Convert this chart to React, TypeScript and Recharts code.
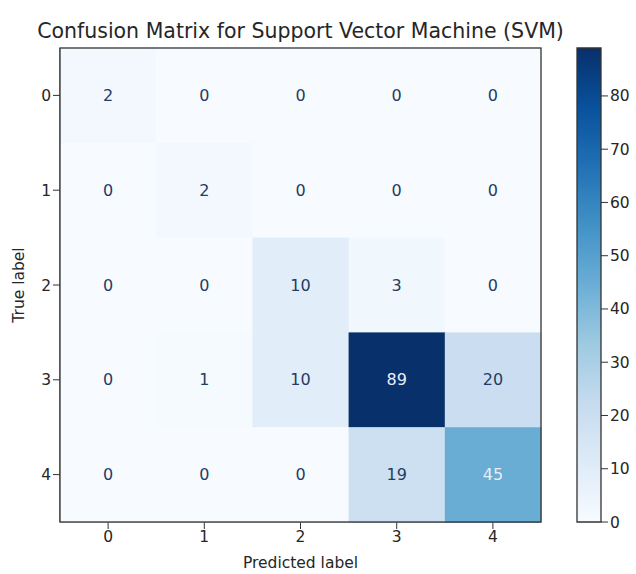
import { ScatterChart, Scatter, XAxis, YAxis, BarChart, Bar } from "recharts";

const classes = ["0", "1", "2", "3", "4"];
const row0 = [2, 0, 0, 0, 0];
const row1 = [0, 2, 0, 0, 0];
const row2 = [0, 0, 10, 3, 0];
const row3 = [0, 1, 10, 89, 20];
const row4 = [0, 0, 0, 19, 45];
const matrix = [row0, row1, row2, row3, row4];
const colorbarTicks = [0, 10, 20, 30, 40, 50, 60, 70, 80];

const title = "Confusion Matrix for Support Vector Machine (SVM)";
const FONT = "'DejaVu Sans', sans-serif";

// matplotlib "Blues"
const BLUES = [
  "#f7fbff", "#deebf7", "#c6dbef", "#9ecae1", "#6baed6",
  "#4292c6", "#2171b5", "#08519c", "#08306b",
];

const vmax = Math.max(...matrix.flat());
const vmin = Math.min(...matrix.flat());

function hexToRgb(h: string) {
  return [1, 3, 5].map((i) => parseInt(h.slice(i, i + 2), 16));
}

function blues(v: number) {
  const t = Math.min(1, Math.max(0, (v - vmin) / (vmax - vmin)));
  const pos = t * (BLUES.length - 1);
  const i = Math.min(BLUES.length - 2, Math.floor(pos));
  const f = pos - i;
  const a = hexToRgb(BLUES[i]);
  const b = hexToRgb(BLUES[i + 1]);
  const c = a.map((x, k) => Math.round(x + (b[k] - x) * f));
  return `rgb(${c[0]},${c[1]},${c[2]})`;
}

const cells = matrix.flatMap((row, r) =>
  row.map((value, c) => ({ x: c, y: r, value }))
);
// single point at the grid centre, used to draw the axes frame on top
const frame = [{ x: (classes.length - 1) / 2, y: (classes.length - 1) / 2 }];

const W = 560;
const H = 574;
const margin = { top: 48, right: 19, bottom: 2, left: 0 };
const Y_AXIS_W = 60;
const X_AXIS_H = 50;
const plotW = W - margin.left - margin.right - Y_AXIS_W;
const plotH = H - margin.top - margin.bottom - X_AXIS_H;
const cellW = plotW / classes.length;
const cellH = plotH / classes.length;

function CellShape(props: any) {
  const { cx, cy, payload } = props;
  const v = payload.value;
  const textColor = v >= (vmax + vmin) / 2 ? "#e8eef6" : "#253c63";
  return (
    <g>
      <rect
        x={cx - cellW / 2}
        y={cy - cellH / 2}
        width={cellW + 0.5}
        height={cellH + 0.5}
        fill={blues(v)}
      />
      <text
        x={cx}
        y={cy}
        textAnchor="middle"
        dominantBaseline="central"
        fontSize={16}
        fontFamily={FONT}
        fill={textColor}
      >
        {v}
      </text>
    </g>
  );
}

function FrameShape(props: any) {
  const { cx, cy } = props;
  return (
    <rect
      x={cx - plotW / 2}
      y={cy - plotH / 2}
      width={plotW}
      height={plotH}
      fill="none"
      stroke="#333"
      strokeWidth={1.3}
    />
  );
}

const tickStyle = { fontSize: 15.5, fill: "#262626", fontFamily: FONT };

export default function App() {
  return (
    <div style={{ position: "absolute", left: 0, top: 0, width: 636, height: 574, background: "#fff" }}>
      <div
        style={{
          position: "absolute",
          left: 0,
          width: 601,
          top: 19,
          textAlign: "center",
          fontFamily: FONT,
          fontSize: 20.5,
          color: "#262626",
        }}
      >
        {title}
      </div>

      <div style={{ position: "absolute", left: 0, top: 0 }}>
        <ScatterChart width={W} height={H} margin={margin}>
          <XAxis
            type="number"
            dataKey="x"
            domain={[-0.5, 4.5]}
            ticks={[0, 1, 2, 3, 4]}
            tickFormatter={(v: number) => classes[v]}
            height={X_AXIS_H}
            tick={tickStyle}
            tickSize={7}
            stroke="#333"
            label={{ value: "Predicted label", position: "insideBottom", offset: 4, fontSize: 15.5, fill: "#262626", fontFamily: FONT }}
          />
          <YAxis
            type="number"
            dataKey="y"
            domain={[-0.5, 4.5]}
            reversed
            ticks={[0, 1, 2, 3, 4]}
            tickFormatter={(v: number) => classes[v]}
            width={Y_AXIS_W}
            tick={tickStyle}
            tickSize={7}
            stroke="#333"
            label={{ value: "True label", angle: -90, position: "insideLeft", offset: 18, fontSize: 15.5, fill: "#262626", fontFamily: FONT, style: { textAnchor: "middle" } }}
          />
          <Scatter data={cells} shape={<CellShape />} isAnimationActive={false} />
          <Scatter data={frame} shape={<FrameShape />} isAnimationActive={false} />
        </ScatterChart>
      </div>

      <div style={{ position: "absolute", left: 570, top: 0 }}>
        <BarChart
          width={66}
          height={H}
          data={[{ name: "cb", v: vmax }]}
          margin={{ top: 48, right: 0, bottom: 52, left: 7 }}
          barCategoryGap={0}
        >
          <defs>
            <linearGradient id="bluesGrad" x1="0" y1="1" x2="0" y2="0">
              {BLUES.map((c, i) => (
                <stop key={c} offset={`${(i / (BLUES.length - 1)) * 100}%`} stopColor={c} />
              ))}
            </linearGradient>
          </defs>
          <XAxis dataKey="name" hide />
          <YAxis
            orientation="right"
            domain={[vmin, vmax]}
            ticks={colorbarTicks}
            width={35}
            tick={tickStyle}
            tickSize={7}
            stroke="#333"
            axisLine={false}
          />
          <Bar dataKey="v" fill="url(#bluesGrad)" stroke="#333" strokeWidth={1.3} isAnimationActive={false} />
        </BarChart>
      </div>
    </div>
  );
}
